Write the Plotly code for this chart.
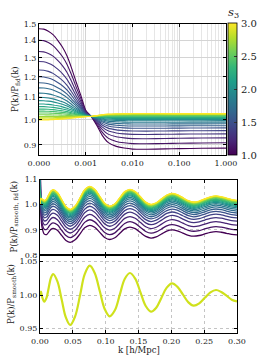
import math
import plotly.graph_objects as go
import plotly.colors as pc

# ---------------- data ----------------
s3_values = [1.0, 1.1, 1.2, 1.3, 1.4, 1.5, 1.6, 1.7, 1.8, 1.9, 2.0,
             2.1, 2.2, 2.3, 2.4, 2.5, 2.6, 2.7, 2.8, 2.9, 3.0]
# P(k)/P_fid at the largest scales (k -> 0), one per s3
low_k_level = [1.47, 1.40, 1.335, 1.28, 1.235, 1.20, 1.17, 1.145, 1.12, 1.10, 1.085,
               1.07, 1.058, 1.047, 1.038, 1.03, 1.022, 1.015, 1.009, 1.004, 1.0]
# P(k)/P_fid at small scales (k = 1 h/Mpc), one per s3
high_k_level = [0.888, 0.908, 0.927, 0.943, 0.956, 0.967, 0.976, 0.984, 0.991, 0.997, 1.002,
                1.006, 1.01, 1.013, 1.016, 1.019, 1.021, 1.023, 1.025, 1.026, 1.027]
# common crossing level of all curves near k ~ 0.0013
knot_level = 1.015
# relative BAO-wiggle amplitude of each curve in the middle panel
wiggle_amp = [0.85, 0.87, 0.89, 0.91, 0.93, 0.95, 0.96, 0.97, 0.98, 0.99, 1.0,
              1.0, 1.0, 1.0, 1.0, 1.0, 1.0, 1.0, 1.0, 1.0, 1.0]

# top panel k samples and read transition weights (low side / high side)
k_top = [0.0, 0.0001, 0.0002, 0.0003, 0.0004, 0.0005, 0.0006, 0.0007, 0.0008, 0.0009,
         0.001, 0.0013, 0.0017, 0.0022, 0.003, 0.0045, 0.0066, 0.01, 0.02, 0.05, 0.1, 0.3, 1.0]
w_low_top = [1.0, 0.995, 0.967, 0.92, 0.846, 0.76, 0.648, 0.50, 0.341, 0.20,
             0.06, 0, 0, 0, 0, 0, 0, 0, 0, 0, 0, 0, 0]
w_high_top = [0, 0, 0, 0, 0, 0, 0, 0, 0, 0,
              0, 0, 0.28, 0.59, 0.83, 0.95, 1.0, 1.03, 1.035, 1.025, 1.015, 1.007, 1.0]

# bottom panel: P(k)/P_smooth(k)
k_wig = [0.0, 0.0015, 0.003, 0.0066, 0.010, 0.0133, 0.0167,
         0.020, 0.0265, 0.033, 0.0395, 0.046, 0.0535, 0.061, 0.068,
         0.0758, 0.0833, 0.091, 0.0985, 0.106, 0.114, 0.1215, 0.129,
         0.137, 0.145, 0.153, 0.161, 0.169, 0.177, 0.185, 0.193,
         0.201, 0.209, 0.2175, 0.226, 0.234, 0.2425, 0.251, 0.2595,
         0.268, 0.276, 0.284, 0.292, 0.300]
wiggle = [0.999, 1.005, 0.998, 0.990, 0.996, 1.011, 1.026,
          1.0315, 1.0204, 0.9933, 0.966, 0.955, 0.968, 0.9995, 1.031,
          1.044, 1.033, 1.006, 0.979, 0.968, 0.977, 1.0005, 1.024,
          1.033, 1.0245, 1.004, 0.9835, 0.975, 0.981, 0.996, 1.011,
          1.0175, 1.0126, 1.0008, 0.989, 0.984, 0.9875, 0.9958, 1.004,
          1.0075, 1.0045, 0.999, 0.993, 0.9905]
# middle panel transition weights on the k_wig samples
w_low_mid = [1.0] + [0.0] * 43
w_high_mid = [0.0, 0.35, 0.8, 0.98, 1.03, 1.04, 1.045,
              1.045, 1.04, 1.04, 1.035, 1.03, 1.03, 1.028, 1.026,
              1.024, 1.022, 1.02, 1.019, 1.018, 1.017, 1.017, 1.016,
              1.016, 1.015, 1.015, 1.014, 1.014, 1.013, 1.013, 1.012,
              1.012, 1.011, 1.011, 1.01, 1.01, 1.009, 1.009, 1.009,
              1.008, 1.008, 1.008, 1.007, 1.007]

top_xtick_labels = ["0.000", "0.001", "0.010", "0.100", "1.000"]
top_ytick_vals = [0.9, 1.0, 1.1, 1.2, 1.3, 1.4, 1.5]
mid_ytick_vals = [0.8, 0.9, 1.0, 1.1]
bot_ytick_vals = [0.95, 1.0, 1.05]
bot_xtick_vals = [0.0, 0.05, 0.10, 0.15, 0.20, 0.25, 0.30]
cbar_ticks = [1.0, 1.5, 2.0, 2.5, 3.0]
S3_MIN, S3_MAX = 1.0, 3.0

# ---------------- helpers ----------------
LINTHRESH = 1e-3


def symlog_pos(k):
    """symmetric-log axis scale (linear below 1e-3, one decade wide)."""
    return k / LINTHRESH if k < LINTHRESH else 1.0 + math.log10(k / LINTHRESH)


W, H = 262, 362
FONT = "DejaVu Serif"


def px_x(p):
    return p / W


def px_y(p):
    return 1 - p / H


CB_TOP, CB_BOT = 23.5, 155.0
colors = pc.sample_colorscale("Viridis", [(s - S3_MIN) / (S3_MAX - S3_MIN) for s in s3_values])

u_top = [symlog_pos(k) for k in k_top]
minor_u = [d + math.log10(m) for d in range(4) for m in range(2, 10)]

fig = go.Figure()

for i, s in enumerate(s3_values):
    L, Hh, a = low_k_level[i], high_k_level[i], wiggle_amp[i]
    y_top = [knot_level + (L - knot_level) * wl + (Hh - knot_level) * wh
             for wl, wh in zip(w_low_top, w_high_top)]
    fig.add_trace(go.Scatter(x=u_top, y=y_top, mode="lines",
                             line=dict(color=colors[i], width=1.1, shape="spline", smoothing=0.6),
                             xaxis="x", yaxis="y", showlegend=False, hoverinfo="skip"))
    y_mid = [(knot_level + (L - knot_level) * wl + (Hh - knot_level) * wh) * (1 + a * (w - 1))
             for wl, wh, w in zip(w_low_mid, w_high_mid, wiggle)]
    fig.add_trace(go.Scatter(x=k_wig, y=y_mid, mode="lines",
                             line=dict(color=colors[i], width=1.3, shape="spline", smoothing=1.0),
                             xaxis="x2", yaxis="y2", showlegend=False, hoverinfo="skip"))

fig.add_trace(go.Scatter(x=k_wig, y=wiggle, mode="lines",
                         line=dict(color="#cfe11c", width=2.2, shape="spline", smoothing=1.0),
                         xaxis="x3", yaxis="y3", showlegend=False, hoverinfo="skip"))

# colour bar (bar only; its labels are placed as annotations below)
fig.add_trace(go.Scatter(
    x=[None], y=[None], mode="markers", xaxis="x", yaxis="y", showlegend=False, hoverinfo="skip",
    marker=dict(size=0.1, color=[2.0], colorscale="Viridis", cmin=S3_MIN, cmax=S3_MAX, showscale=True,
                colorbar=dict(x=px_x(228), xanchor="left", y=px_y(CB_BOT), yanchor="bottom",
                              len=(CB_BOT - CB_TOP) / H, lenmode="fraction",
                              thickness=9, thicknessmode="pixels", xpad=0, ypad=0,
                              outlinewidth=0.8, outlinecolor="black",
                              tickmode="array", tickvals=cbar_ticks,
                              ticks="inside", ticklen=3, tickcolor="#333",
                              showticklabels=False))))

axis_common = dict(showline=True, linecolor="black", linewidth=1, mirror="ticks",
                   ticks="inside", ticklen=3, tickcolor="black", zeroline=False,
                   tickfont=dict(size=8, family=FONT, color="#222"), automargin=False)
dot_grid = dict(showgrid=True, gridcolor="#c4c4c4", gridwidth=0.7, griddash="dot")

title_font = dict(size=8.5, family=FONT, color="#222")
annotations = [
    dict(text="P(k)/P<sub>fid</sub>(k)", x=px_x(15), y=px_y(89), textangle=-90,
         xanchor="center", font=title_font),
    dict(text="P(k)/P<sub>smooth, fid</sub>(k)", x=px_x(13.5), y=px_y(217), textangle=-90,
         xanchor="center", font=title_font),
    dict(text="P(k)/P<sub>smooth</sub>(k)", x=px_x(11), y=px_y(294), textangle=-90,
         xanchor="center", font=title_font),
    dict(text="k [h/Mpc]", x=px_x(138.5), y=px_y(350), textangle=0,
         xanchor="center", font=title_font),
    dict(text="<i>s</i><sub>3</sub>", x=px_x(233), y=px_y(12), textangle=0,
         xanchor="center", font=dict(size=11.5, family=FONT, color="#222")),
]
for v in cbar_ticks:
    ypix = CB_BOT - (v - S3_MIN) / (S3_MAX - S3_MIN) * (CB_BOT - CB_TOP)
    annotations.append(dict(text=f"{v:.1f}", x=px_x(240), y=px_y(ypix), textangle=0,
                            xanchor="left", font=dict(size=10, family=FONT, color="#222")))
for ann in annotations:
    ann.update(xref="paper", yref="paper", yanchor="middle", showarrow=False, borderpad=0)

fig.update_layout(
    width=W, height=H, margin=dict(l=0, r=0, t=0, b=0),
    paper_bgcolor="white", plot_bgcolor="white",
    font=dict(family=FONT, size=8, color="#222"),
    annotations=annotations,
    xaxis=dict(domain=[px_x(39), px_x(226)], range=[0, 4], anchor="y",
               tickvals=[0, 1, 2, 3, 4], ticktext=top_xtick_labels,
               showgrid=True, gridcolor="#d4d4d4", gridwidth=0.8,
               minor=dict(tickvals=minor_u, showgrid=True, gridcolor="#e6e6e6", gridwidth=0.6, ticks=""),
               **axis_common),
    yaxis=dict(domain=[px_y(155), px_y(23.5)], type="log",
               range=[math.log10(0.8624), math.log10(1.503)], anchor="x",
               tickvals=top_ytick_vals, ticktext=[f"{v:.1f}" for v in top_ytick_vals],
               showgrid=True, gridcolor="#d4d4d4", gridwidth=0.8,
               **axis_common),
    xaxis2=dict(domain=[px_x(40), px_x(237)], range=[0, 0.3], anchor="y2", matches="x3",
                tickvals=bot_xtick_vals, showticklabels=False, **dot_grid, **axis_common),
    yaxis2=dict(domain=[px_y(255), px_y(179.5)], range=[0.8, 1.1], anchor="x2",
                tickvals=mid_ytick_vals, ticktext=[f"{v:.1f}" for v in mid_ytick_vals],
                **dot_grid, **axis_common),
    xaxis3=dict(domain=[px_x(40), px_x(237)], range=[0, 0.3], anchor="y3",
                tickvals=bot_xtick_vals, ticktext=[f"{v:.2f}" for v in bot_xtick_vals],
                **dot_grid, **axis_common),
    yaxis3=dict(domain=[px_y(333), px_y(255)], range=[0.943, 1.060], anchor="x3",
                tickvals=bot_ytick_vals, ticktext=[f"{v:.2f}" for v in bot_ytick_vals],
                **dot_grid, **axis_common),
)

fig.write_html("out.html", config={"displayModeBar": False},
               post_script="document.body.style.margin='0';document.body.style.padding='0';")
